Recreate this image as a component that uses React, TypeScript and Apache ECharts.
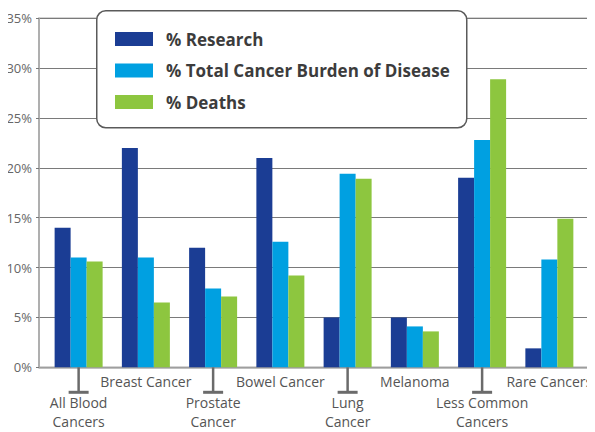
import React, { useEffect, useRef } from "react";
import * as echarts from "echarts";

const categories = [
  "All Blood\nCancers",
  "Breast Cancer",
  "Prostate\nCancer",
  "Bowel Cancer",
  "Lung\nCancer",
  "Melanoma",
  "Less Common\nCancers",
  "Rare Cancers",
];
const research = [14, 22, 12, 21, 5, 5, 19, 1.9];
const burden = [11, 11, 7.9, 12.6, 19.4, 4.1, 22.8, 10.8];
const deaths = [10.6, 6.5, 7.1, 9.2, 18.9, 3.6, 28.9, 14.9];
const yTicks = [0, 5, 10, 15, 20, 25, 30, 35];

const seriesNames = ["% Research", "% Total Cancer Burden of Disease", "% Deaths"];
const colors = ["#1b3d94", "#00a0e1", "#8dc63f"];

const FONT = "'Open Sans', 'Noto Sans', sans-serif";

export default function App() {
  const ref = useRef<HTMLDivElement>(null);
  useEffect(() => {
    if (!ref.current) return;
    const chart = echarts.init(ref.current, null, { renderer: "svg" });
    const top = 18.3;
    const bottom = 432 - 367.3;
    const legendBox = {
      id: "legendBox",
      type: "rect",
      left: 96,
      top: 10,
      shape: { width: 370, height: 117, r: 9 },
      style: { fill: "#fff", stroke: "#5a5a5a", lineWidth: 1.5 },
      z: 10,
    };
    const option: any = {
      animation: false,
      textStyle: { fontFamily: FONT },
      color: colors,
      grid: [
        { left: 39, right: 5, top, bottom, show: true, borderColor: "#aaa", borderWidth: 1.5 },
        { left: 45, right: 8, top, bottom },
      ],
      legend: {
        orient: "vertical",
        left: 115,
        top: 29,
        padding: 0,
        itemWidth: 38,
        itemHeight: 14,
        itemGap: 11.5,
        icon: "rect",
        z: 20,
        selectedMode: false,
        textStyle: {
          fontSize: 17,
          fontWeight: "bold",
          color: "#3c3c3c",
          lineHeight: 20,
          padding: [0, 0, 0, 8],
          fontFamily: FONT,
        },
        data: seriesNames,
      },
      xAxis: [
        {
          type: "category",
          gridIndex: 0,
          data: categories,
          axisLine: { show: true, lineStyle: { color: "#aaa", width: 1.5 } },
          axisTick: { show: false },
          axisLabel: { show: false },
        },
        {
          type: "category",
          gridIndex: 1,
          data: categories,
          axisLine: { show: false },
          axisTick: { show: false },
          axisLabel: {
            interval: 0,
            margin: 5,
            formatter: (value: string, index: number) => {
              const lines = value.split("\n").map((l) => `{t|${l}}`).join("\n");
              return index % 2 === 0 ? `{gap|}\n${lines}` : lines;
            },
            rich: {
              t: { fontSize: 14, lineHeight: 19, color: "#555", fontFamily: FONT },
              gap: { height: 21, lineHeight: 21 },
            },
          },
        },
      ],
      yAxis: [
        {
          type: "value",
          gridIndex: 0,
          min: 0,
          max: 35,
          interval: 5,
          axisLine: { show: true, lineStyle: { color: "#aaa", width: 1.5 } },
          axisTick: { show: true, length: 3, lineStyle: { color: "#777" } },
          splitLine: { show: true, lineStyle: { color: "#7a7a7a", width: 1 } },
          axisLabel: {
            formatter: (v: number) => (yTicks.includes(v) ? `${v}%` : ""),
            color: "#666",
            fontSize: 13,
            margin: 7,
            fontFamily: FONT,
          },
        },
        {
          type: "value",
          gridIndex: 1,
          min: 0,
          max: 35,
          interval: 5,
          show: false,
          splitLine: { show: false },
        },
      ],
      series: [research, burden, deaths].map((d, i) => ({
        name: seriesNames[i],
        type: "bar",
        xAxisIndex: 1,
        yAxisIndex: 1,
        data: d,
        barWidth: 16,
        barGap: "0%",
        itemStyle: { color: colors[i] },
      })),
      graphic: [legendBox],
    };
    chart.setOption(option);

    const y0 = chart.convertToPixel({ yAxisIndex: 1 }, 0) as number;
    const connectors: any[] = [legendBox];
    categories.forEach((c, i) => {
      if (i % 2 !== 0) return;
      const x = chart.convertToPixel({ xAxisIndex: 1 }, i) as number;
      connectors.push({
        id: `v${i}`,
        type: "line",
        shape: { x1: x, y1: y0, x2: x, y2: y0 + 25 },
        style: { stroke: "#6b6b6b", lineWidth: 2.5 },
        z: 5,
      });
      connectors.push({
        id: `h${i}`,
        type: "line",
        shape: { x1: x - 10, y1: y0 + 25, x2: x + 10, y2: y0 + 25 },
        style: { stroke: "#6b6b6b", lineWidth: 3 },
        z: 5,
      });
    });
    chart.setOption({ graphic: connectors });
    return () => chart.dispose();
  }, []);
  return <div ref={ref} style={{ width: 595, height: 432, marginLeft: -8, marginTop: -8 }} />;
}
